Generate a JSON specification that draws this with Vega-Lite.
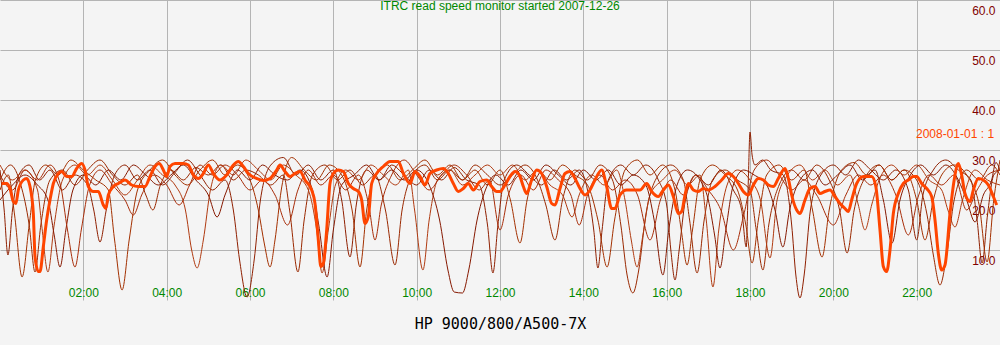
{
"$schema": "https://vega.github.io/schema/vega-lite/v6.json",
"width": 1000, "height": 300,
"autosize": {"type": "none"},
"padding": {"left": 0, "top": 0, "right": 0, "bottom": 45},
"background": "#f4f4f4",
"config": {"view": {"stroke": null}, "font": "Liberation Sans"},
"title": {"text": "ITRC read speed monitor started 2007-12-26", "color": "#008800", "fontSize": 12, "fontWeight": "normal", "font": "Liberation Sans", "anchor": "middle", "frame": "group", "orient": "top", "baseline": "top", "offset": -13},
"datasets": {
"brown": [
{"s":"a","h":0.0,"v":26},{"s":"a","h":0.1,"v":18},{"s":"a","h":0.19,"v":9},{"s":"a","h":0.3,"v":18},{"s":"a","h":0.45,"v":25},{"s":"a","h":0.7,"v":27},{"s":"a","h":0.95,"v":24},{"s":"a","h":1.2,"v":26},{"s":"a","h":1.5,"v":22},{"s":"a","h":1.8,"v":25},{"s":"a","h":2.1,"v":23},{"s":"a","h":2.25,"v":18},{"s":"a","h":2.4,"v":11.6},{"s":"a","h":2.55,"v":18},{"s":"a","h":2.75,"v":25},{"s":"a","h":3.0,"v":27},{"s":"a","h":3.3,"v":24},{"s":"a","h":3.6,"v":26},{"s":"a","h":3.9,"v":23},{"s":"a","h":4.2,"v":25.5},{"s":"a","h":4.5,"v":28},{"s":"a","h":4.8,"v":25},{"s":"a","h":5.1,"v":22},{"s":"a","h":5.4,"v":24},{"s":"a","h":5.6,"v":18},{"s":"a","h":5.75,"v":8},{"s":"a","h":5.93,"v":0.6},{"s":"a","h":6.1,"v":8},{"s":"a","h":6.25,"v":20},{"s":"a","h":6.5,"v":27},{"s":"a","h":6.8,"v":28.5},{"s":"a","h":7.1,"v":25},{"s":"a","h":7.4,"v":27},{"s":"a","h":7.7,"v":24},{"s":"a","h":8.0,"v":26},{"s":"a","h":8.2,"v":20},{"s":"a","h":8.4,"v":8.6},{"s":"a","h":8.55,"v":19},{"s":"a","h":8.8,"v":26},{"s":"a","h":9.1,"v":24},{"s":"a","h":9.4,"v":27},{"s":"a","h":9.7,"v":25},{"s":"a","h":10.0,"v":23},{"s":"a","h":10.3,"v":26},{"s":"a","h":10.6,"v":24},{"s":"a","h":10.9,"v":26.5},{"s":"a","h":11.2,"v":24},{"s":"a","h":11.5,"v":23},{"s":"a","h":11.7,"v":15},{"s":"a","h":11.83,"v":5.4},{"s":"a","h":11.95,"v":15},{"s":"a","h":12.1,"v":24},{"s":"a","h":12.4,"v":27},{"s":"a","h":12.7,"v":25},{"s":"a","h":13.0,"v":23},{"s":"a","h":13.3,"v":26},{"s":"a","h":13.6,"v":24},{"s":"a","h":13.9,"v":26},{"s":"a","h":14.1,"v":22},{"s":"a","h":14.25,"v":14},{"s":"a","h":14.35,"v":6.4},{"s":"a","h":14.45,"v":14},{"s":"a","h":14.6,"v":24},{"s":"a","h":14.9,"v":27},{"s":"a","h":15.2,"v":25},{"s":"a","h":15.5,"v":27},{"s":"a","h":15.8,"v":24},{"s":"a","h":16.0,"v":19},{"s":"a","h":16.1,"v":10},{"s":"a","h":16.2,"v":4},{"s":"a","h":16.3,"v":10},{"s":"a","h":16.45,"v":20},{"s":"a","h":16.7,"v":25},{"s":"a","h":17.0,"v":23},{"s":"a","h":17.3,"v":26},{"s":"a","h":17.6,"v":22},{"s":"a","h":17.8,"v":18},{"s":"a","h":17.91,"v":10.6},{"s":"a","h":17.96,"v":24},{"s":"a","h":18.0,"v":33.6},{"s":"a","h":18.05,"v":29},{"s":"a","h":18.12,"v":27},{"s":"a","h":18.3,"v":28},{"s":"a","h":18.5,"v":26},{"s":"a","h":18.8,"v":25},{"s":"a","h":19.0,"v":15},{"s":"a","h":19.1,"v":5},{"s":"a","h":19.2,"v":0.4},{"s":"a","h":19.3,"v":5},{"s":"a","h":19.45,"v":18},{"s":"a","h":19.7,"v":25},{"s":"a","h":20.0,"v":27},{"s":"a","h":20.3,"v":25},{"s":"a","h":20.6,"v":28},{"s":"a","h":20.9,"v":26},{"s":"a","h":21.2,"v":24},{"s":"a","h":21.5,"v":26},{"s":"a","h":21.8,"v":22},{"s":"a","h":22.0,"v":12},{"s":"a","h":22.15,"v":21},{"s":"a","h":22.4,"v":26},{"s":"a","h":22.7,"v":28},{"s":"a","h":23.0,"v":26},{"s":"a","h":23.3,"v":24},{"s":"a","h":23.45,"v":16},{"s":"a","h":23.57,"v":7.4},{"s":"a","h":23.7,"v":17},{"s":"a","h":23.85,"v":25},{"s":"a","h":24.0,"v":26},
{"s":"b","h":0.0,"v":22},{"s":"b","h":0.2,"v":25},{"s":"b","h":0.35,"v":17},{"s":"b","h":0.53,"v":4.6},{"s":"b","h":0.7,"v":15},{"s":"b","h":0.85,"v":24},{"s":"b","h":1.1,"v":27},{"s":"b","h":1.4,"v":25},{"s":"b","h":1.7,"v":28},{"s":"b","h":2.0,"v":26},{"s":"b","h":2.3,"v":24},{"s":"b","h":2.6,"v":22},{"s":"b","h":2.75,"v":12},{"s":"b","h":2.93,"v":2},{"s":"b","h":3.1,"v":12},{"s":"b","h":3.3,"v":22},{"s":"b","h":3.6,"v":26},{"s":"b","h":3.9,"v":28},{"s":"b","h":4.2,"v":25},{"s":"b","h":4.5,"v":23},{"s":"b","h":4.8,"v":26},{"s":"b","h":5.1,"v":28},{"s":"b","h":5.4,"v":25},{"s":"b","h":5.7,"v":27},{"s":"b","h":6.0,"v":24},{"s":"b","h":6.2,"v":18},{"s":"b","h":6.35,"v":11},{"s":"b","h":6.48,"v":6.6},{"s":"b","h":6.6,"v":12},{"s":"b","h":6.75,"v":22},{"s":"b","h":7.0,"v":28.5},{"s":"b","h":7.3,"v":26},{"s":"b","h":7.6,"v":24},{"s":"b","h":7.9,"v":27},{"s":"b","h":8.2,"v":25},{"s":"b","h":8.45,"v":18},{"s":"b","h":8.64,"v":6.6},{"s":"b","h":8.8,"v":18},{"s":"b","h":9.0,"v":25},{"s":"b","h":9.3,"v":27},{"s":"b","h":9.6,"v":24},{"s":"b","h":9.9,"v":26},{"s":"b","h":10.2,"v":28},{"s":"b","h":10.5,"v":25},{"s":"b","h":10.8,"v":27},{"s":"b","h":11.1,"v":24},{"s":"b","h":11.4,"v":26},{"s":"b","h":11.7,"v":23},{"s":"b","h":12.0,"v":26},{"s":"b","h":12.25,"v":20},{"s":"b","h":12.48,"v":11.4},{"s":"b","h":12.65,"v":20},{"s":"b","h":12.9,"v":26},{"s":"b","h":13.2,"v":24},{"s":"b","h":13.5,"v":27},{"s":"b","h":13.8,"v":25},{"s":"b","h":14.1,"v":23},{"s":"b","h":14.35,"v":16},{"s":"b","h":14.57,"v":6.6},{"s":"b","h":14.75,"v":16},{"s":"b","h":15.0,"v":26},{"s":"b","h":15.3,"v":28},{"s":"b","h":15.6,"v":25},{"s":"b","h":15.9,"v":27},{"s":"b","h":16.2,"v":22},{"s":"b","h":16.35,"v":14},{"s":"b","h":16.49,"v":7},{"s":"b","h":16.62,"v":14},{"s":"b","h":16.8,"v":24},{"s":"b","h":17.1,"v":27},{"s":"b","h":17.4,"v":25},{"s":"b","h":17.7,"v":22},{"s":"b","h":17.9,"v":15},{"s":"b","h":18.05,"v":7.4},{"s":"b","h":18.2,"v":16},{"s":"b","h":18.4,"v":25},{"s":"b","h":18.7,"v":27},{"s":"b","h":19.0,"v":24},{"s":"b","h":19.3,"v":26},{"s":"b","h":19.5,"v":18},{"s":"b","h":19.73,"v":8.6},{"s":"b","h":19.9,"v":18},{"s":"b","h":20.2,"v":26},{"s":"b","h":20.5,"v":27.5},{"s":"b","h":20.8,"v":25},{"s":"b","h":21.1,"v":27},{"s":"b","h":21.4,"v":24},{"s":"b","h":21.7,"v":26},{"s":"b","h":22.0,"v":20},{"s":"b","h":22.2,"v":12},{"s":"b","h":22.4,"v":20},{"s":"b","h":22.6,"v":25},{"s":"b","h":22.9,"v":27},{"s":"b","h":23.2,"v":25},{"s":"b","h":23.5,"v":19},{"s":"b","h":23.69,"v":7.6},{"s":"b","h":23.85,"v":20},{"s":"b","h":24.0,"v":28},
{"s":"c","h":0.0,"v":24},{"s":"c","h":0.25,"v":27},{"s":"c","h":0.5,"v":23},{"s":"c","h":0.7,"v":15},{"s":"c","h":0.84,"v":5.6},{"s":"c","h":0.98,"v":15},{"s":"c","h":1.2,"v":24},{"s":"c","h":1.5,"v":26},{"s":"c","h":1.8,"v":23},{"s":"c","h":2.1,"v":26},{"s":"c","h":2.4,"v":28},{"s":"c","h":2.7,"v":25},{"s":"c","h":3.0,"v":23},{"s":"c","h":3.3,"v":25},{"s":"c","h":3.5,"v":21},{"s":"c","h":3.67,"v":18},{"s":"c","h":3.85,"v":23},{"s":"c","h":4.1,"v":26},{"s":"c","h":4.4,"v":24},{"s":"c","h":4.7,"v":26.5},{"s":"c","h":5.0,"v":25},{"s":"c","h":5.3,"v":27},{"s":"c","h":5.6,"v":24},{"s":"c","h":5.9,"v":26},{"s":"c","h":6.2,"v":25},{"s":"c","h":6.5,"v":23},{"s":"c","h":6.8,"v":25},{"s":"c","h":6.95,"v":18},{"s":"c","h":7.15,"v":5.6},{"s":"c","h":7.3,"v":16},{"s":"c","h":7.5,"v":25},{"s":"c","h":7.8,"v":27},{"s":"c","h":8.1,"v":24},{"s":"c","h":8.4,"v":26},{"s":"c","h":8.7,"v":23},{"s":"c","h":9.0,"v":25},{"s":"c","h":9.25,"v":18},{"s":"c","h":9.48,"v":7},{"s":"c","h":9.65,"v":18},{"s":"c","h":9.9,"v":25},{"s":"c","h":10.2,"v":27},{"s":"c","h":10.5,"v":24},{"s":"c","h":10.8,"v":26},{"s":"c","h":11.1,"v":24},{"s":"c","h":11.4,"v":27},{"s":"c","h":11.7,"v":25},{"s":"c","h":12.0,"v":23},{"s":"c","h":12.3,"v":25},{"s":"c","h":12.6,"v":27},{"s":"c","h":12.9,"v":24},{"s":"c","h":13.1,"v":19},{"s":"c","h":13.32,"v":12},{"s":"c","h":13.5,"v":20},{"s":"c","h":13.8,"v":26},{"s":"c","h":14.1,"v":24},{"s":"c","h":14.4,"v":27},{"s":"c","h":14.7,"v":24},{"s":"c","h":14.9,"v":15},{"s":"c","h":15.05,"v":5},{"s":"c","h":15.19,"v":1.4},{"s":"c","h":15.33,"v":6},{"s":"c","h":15.5,"v":17},{"s":"c","h":15.8,"v":25},{"s":"c","h":16.1,"v":27},{"s":"c","h":16.4,"v":24},{"s":"c","h":16.55,"v":16},{"s":"c","h":16.73,"v":5.4},{"s":"c","h":16.9,"v":16},{"s":"c","h":17.1,"v":24},{"s":"c","h":17.4,"v":26},{"s":"c","h":17.7,"v":24},{"s":"c","h":18.0,"v":22},{"s":"c","h":18.15,"v":14},{"s":"c","h":18.31,"v":6},{"s":"c","h":18.45,"v":15},{"s":"c","h":18.7,"v":23},{"s":"c","h":19.0,"v":26},{"s":"c","h":19.3,"v":24},{"s":"c","h":19.6,"v":27},{"s":"c","h":19.9,"v":24},{"s":"c","h":20.15,"v":18},{"s":"c","h":20.33,"v":9.4},{"s":"c","h":20.5,"v":18},{"s":"c","h":20.8,"v":25},{"s":"c","h":21.1,"v":27},{"s":"c","h":21.4,"v":24},{"s":"c","h":21.7,"v":26},{"s":"c","h":22.0,"v":24},{"s":"c","h":22.25,"v":17},{"s":"c","h":22.4,"v":9},{"s":"c","h":22.56,"v":3},{"s":"c","h":22.72,"v":9},{"s":"c","h":22.9,"v":20},{"s":"c","h":23.2,"v":26},{"s":"c","h":23.5,"v":24},{"s":"c","h":23.8,"v":27},{"s":"c","h":24.0,"v":25},
{"s":"d","h":0.0,"v":27},{"s":"d","h":0.3,"v":24},{"s":"d","h":0.6,"v":26},{"s":"d","h":0.9,"v":22},{"s":"d","h":1.0,"v":15},{"s":"d","h":1.15,"v":5.6},{"s":"d","h":1.3,"v":15},{"s":"d","h":1.5,"v":24},{"s":"d","h":1.8,"v":27},{"s":"d","h":2.1,"v":25},{"s":"d","h":2.4,"v":27},{"s":"d","h":2.7,"v":24},{"s":"d","h":3.0,"v":21},{"s":"d","h":3.3,"v":24},{"s":"d","h":3.6,"v":27},{"s":"d","h":3.9,"v":25},{"s":"d","h":4.2,"v":23},{"s":"d","h":4.45,"v":18},{"s":"d","h":4.6,"v":10},{"s":"d","h":4.73,"v":6.4},{"s":"d","h":4.88,"v":12},{"s":"d","h":5.05,"v":22},{"s":"d","h":5.3,"v":27},{"s":"d","h":5.6,"v":25},{"s":"d","h":5.9,"v":28},{"s":"d","h":6.2,"v":26},{"s":"d","h":6.5,"v":24},{"s":"d","h":6.8,"v":27},{"s":"d","h":7.1,"v":25},{"s":"d","h":7.4,"v":22},{"s":"d","h":7.6,"v":14},{"s":"d","h":7.73,"v":5.4},{"s":"d","h":7.88,"v":14},{"s":"d","h":8.05,"v":23},{"s":"d","h":8.3,"v":26},{"s":"d","h":8.6,"v":24},{"s":"d","h":8.9,"v":27},{"s":"d","h":9.2,"v":25},{"s":"d","h":9.5,"v":23},{"s":"d","h":9.8,"v":26},{"s":"d","h":9.95,"v":18},{"s":"d","h":10.15,"v":6},{"s":"d","h":10.3,"v":16},{"s":"d","h":10.5,"v":24},{"s":"d","h":10.8,"v":26},{"s":"d","h":11.1,"v":23},{"s":"d","h":11.4,"v":25},{"s":"d","h":11.7,"v":27},{"s":"d","h":12.0,"v":25},{"s":"d","h":12.3,"v":27},{"s":"d","h":12.6,"v":24},{"s":"d","h":12.9,"v":26},{"s":"d","h":13.2,"v":23},{"s":"d","h":13.5,"v":21},{"s":"d","h":13.73,"v":16.6},{"s":"d","h":13.9,"v":21},{"s":"d","h":14.2,"v":25},{"s":"d","h":14.5,"v":23},{"s":"d","h":14.8,"v":26},{"s":"d","h":15.0,"v":20},{"s":"d","h":15.15,"v":12},{"s":"d","h":15.29,"v":6.6},{"s":"d","h":15.43,"v":13},{"s":"d","h":15.6,"v":21},{"s":"d","h":15.9,"v":24},{"s":"d","h":16.2,"v":26},{"s":"d","h":16.5,"v":23},{"s":"d","h":16.8,"v":25},{"s":"d","h":16.95,"v":16},{"s":"d","h":17.11,"v":2.6},{"s":"d","h":17.25,"v":14},{"s":"d","h":17.45,"v":23},{"s":"d","h":17.7,"v":26},{"s":"d","h":18.0,"v":24},{"s":"d","h":18.25,"v":20},{"s":"d","h":18.48,"v":8.4},{"s":"d","h":18.65,"v":20},{"s":"d","h":18.9,"v":25},{"s":"d","h":19.2,"v":27},{"s":"d","h":19.5,"v":24},{"s":"d","h":19.8,"v":26},{"s":"d","h":20.1,"v":23},{"s":"d","h":20.4,"v":25},{"s":"d","h":20.6,"v":19},{"s":"d","h":20.76,"v":14},{"s":"d","h":20.92,"v":19},{"s":"d","h":21.1,"v":24},{"s":"d","h":21.4,"v":27},{"s":"d","h":21.7,"v":25},{"s":"d","h":22.0,"v":27},{"s":"d","h":22.3,"v":24},{"s":"d","h":22.6,"v":22},{"s":"d","h":22.75,"v":18},{"s":"d","h":22.92,"v":14.6},{"s":"d","h":23.1,"v":20},{"s":"d","h":23.4,"v":26},{"s":"d","h":23.7,"v":24},{"s":"d","h":24.0,"v":23},
{"s":"e","h":0.0,"v":20},{"s":"e","h":0.3,"v":23},{"s":"e","h":0.6,"v":25},{"s":"e","h":0.9,"v":23},{"s":"e","h":1.15,"v":20},{"s":"e","h":1.3,"v":13},{"s":"e","h":1.44,"v":6.6},{"s":"e","h":1.58,"v":14},{"s":"e","h":1.75,"v":22},{"s":"e","h":2.0,"v":25},{"s":"e","h":2.3,"v":23},{"s":"e","h":2.6,"v":26},{"s":"e","h":2.9,"v":24},{"s":"e","h":3.2,"v":27},{"s":"e","h":3.5,"v":25},{"s":"e","h":3.8,"v":23},{"s":"e","h":4.1,"v":25},{"s":"e","h":4.4,"v":27},{"s":"e","h":4.7,"v":24},{"s":"e","h":5.0,"v":21},{"s":"e","h":5.21,"v":16.6},{"s":"e","h":5.4,"v":21},{"s":"e","h":5.7,"v":26},{"s":"e","h":6.0,"v":24},{"s":"e","h":6.3,"v":27},{"s":"e","h":6.6,"v":25},{"s":"e","h":6.9,"v":24},{"s":"e","h":7.2,"v":26},{"s":"e","h":7.5,"v":22},{"s":"e","h":7.65,"v":15},{"s":"e","h":7.85,"v":4.6},{"s":"e","h":8.0,"v":14},{"s":"e","h":8.2,"v":23},{"s":"e","h":8.5,"v":25},{"s":"e","h":8.8,"v":27},{"s":"e","h":9.1,"v":24},{"s":"e","h":9.4,"v":26},{"s":"e","h":9.7,"v":24},{"s":"e","h":10.0,"v":26},{"s":"e","h":10.3,"v":23},{"s":"e","h":10.55,"v":16},{"s":"e","h":10.75,"v":6},{"s":"e","h":10.9,"v":1.6},{"s":"e","h":11.1,"v":1.4},{"s":"e","h":11.25,"v":6},{"s":"e","h":11.45,"v":16},{"s":"e","h":11.65,"v":22},{"s":"e","h":11.9,"v":25},{"s":"e","h":12.2,"v":23},{"s":"e","h":12.5,"v":26},{"s":"e","h":12.8,"v":24},{"s":"e","h":13.1,"v":27},{"s":"e","h":13.4,"v":25},{"s":"e","h":13.7,"v":23},{"s":"e","h":14.0,"v":26},{"s":"e","h":14.3,"v":24},{"s":"e","h":14.6,"v":26},{"s":"e","h":14.9,"v":23},{"s":"e","h":15.2,"v":25},{"s":"e","h":15.5,"v":23},{"s":"e","h":15.7,"v":16},{"s":"e","h":15.91,"v":5},{"s":"e","h":16.05,"v":14},{"s":"e","h":16.25,"v":23},{"s":"e","h":16.5,"v":26},{"s":"e","h":16.8,"v":24},{"s":"e","h":17.0,"v":20},{"s":"e","h":17.15,"v":13},{"s":"e","h":17.28,"v":6.4},{"s":"e","h":17.42,"v":14},{"s":"e","h":17.6,"v":23},{"s":"e","h":17.85,"v":26},{"s":"e","h":18.1,"v":25},{"s":"e","h":18.4,"v":23},{"s":"e","h":18.6,"v":18},{"s":"e","h":18.79,"v":10.6},{"s":"e","h":18.95,"v":18},{"s":"e","h":19.2,"v":24},{"s":"e","h":19.5,"v":26},{"s":"e","h":19.8,"v":23},{"s":"e","h":20.1,"v":25},{"s":"e","h":20.4,"v":27},{"s":"e","h":20.7,"v":24},{"s":"e","h":21.0,"v":26},{"s":"e","h":21.2,"v":20},{"s":"e","h":21.41,"v":11.4},{"s":"e","h":21.6,"v":20},{"s":"e","h":21.85,"v":25},{"s":"e","h":22.1,"v":27},{"s":"e","h":22.4,"v":25},{"s":"e","h":22.7,"v":27},{"s":"e","h":23.0,"v":24},{"s":"e","h":23.2,"v":20},{"s":"e","h":23.4,"v":15.6},{"s":"e","h":23.6,"v":21},{"s":"e","h":23.8,"v":24},{"s":"e","h":23.9,"v":27.5},{"s":"e","h":24.0,"v":26},
{"s":"f","h":0.0,"v":25},{"s":"f","h":0.3,"v":22},{"s":"f","h":0.6,"v":26},{"s":"f","h":0.9,"v":24},{"s":"f","h":1.2,"v":27},{"s":"f","h":1.45,"v":23},{"s":"f","h":1.62,"v":14},{"s":"f","h":1.8,"v":6.6},{"s":"f","h":1.95,"v":14},{"s":"f","h":2.15,"v":23},{"s":"f","h":2.4,"v":26},{"s":"f","h":2.7,"v":23},{"s":"f","h":3.0,"v":20},{"s":"f","h":3.2,"v":17},{"s":"f","h":3.4,"v":21},{"s":"f","h":3.7,"v":25},{"s":"f","h":4.0,"v":23},{"s":"f","h":4.3,"v":19},{"s":"f","h":4.55,"v":23},{"s":"f","h":4.8,"v":27},{"s":"f","h":5.1,"v":25},{"s":"f","h":5.4,"v":27},{"s":"f","h":5.7,"v":25},{"s":"f","h":6.0,"v":22},{"s":"f","h":6.3,"v":24},{"s":"f","h":6.6,"v":21},{"s":"f","h":6.9,"v":15},{"s":"f","h":7.15,"v":22},{"s":"f","h":7.4,"v":26},{"s":"f","h":7.7,"v":23},{"s":"f","h":8.0,"v":25},{"s":"f","h":8.3,"v":22},{"s":"f","h":8.6,"v":25},{"s":"f","h":8.85,"v":19},{"s":"f","h":9.0,"v":12},{"s":"f","h":9.15,"v":19},{"s":"f","h":9.4,"v":25},{"s":"f","h":9.7,"v":28},{"s":"f","h":10.0,"v":25},{"s":"f","h":10.3,"v":22},{"s":"f","h":10.6,"v":25},{"s":"f","h":10.9,"v":27},{"s":"f","h":11.2,"v":25},{"s":"f","h":11.5,"v":22},{"s":"f","h":11.75,"v":24},{"s":"f","h":12.0,"v":14},{"s":"f","h":12.2,"v":21},{"s":"f","h":12.5,"v":25},{"s":"f","h":12.8,"v":22},{"s":"f","h":13.1,"v":26},{"s":"f","h":13.4,"v":24},{"s":"f","h":13.7,"v":21},{"s":"f","h":13.9,"v":15},{"s":"f","h":14.1,"v":21},{"s":"f","h":14.4,"v":25},{"s":"f","h":14.7,"v":22},{"s":"f","h":15.0,"v":24},{"s":"f","h":15.3,"v":21},{"s":"f","h":15.6,"v":12},{"s":"f","h":15.85,"v":20},{"s":"f","h":16.1,"v":24},{"s":"f","h":16.4,"v":21},{"s":"f","h":16.7,"v":25},{"s":"f","h":17.0,"v":22},{"s":"f","h":17.3,"v":18},{"s":"f","h":17.6,"v":10},{"s":"f","h":17.85,"v":17},{"s":"f","h":18.1,"v":26},{"s":"f","h":18.4,"v":28},{"s":"f","h":18.7,"v":25},{"s":"f","h":19.0,"v":22},{"s":"f","h":19.3,"v":24},{"s":"f","h":19.6,"v":21},{"s":"f","h":20.0,"v":15},{"s":"f","h":20.3,"v":21},{"s":"f","h":20.6,"v":25},{"s":"f","h":20.9,"v":23},{"s":"f","h":21.2,"v":25},{"s":"f","h":21.5,"v":21},{"s":"f","h":21.8,"v":13},{"s":"f","h":22.05,"v":21},{"s":"f","h":22.3,"v":25},{"s":"f","h":22.6,"v":23},{"s":"f","h":22.9,"v":25},{"s":"f","h":23.2,"v":18},{"s":"f","h":23.45,"v":22},{"s":"f","h":23.7,"v":25},{"s":"f","h":24.0,"v":26}
],
"orange": [
{"s":"2008-01-01 : 1","h":0.04,"v":23.3},{"s":"2008-01-01 : 1","h":0.16,"v":23.3},{"s":"2008-01-01 : 1","h":0.24,"v":22.3},{"s":"2008-01-01 : 1","h":0.32,"v":19.7},{"s":"2008-01-01 : 1","h":0.38,"v":19.3},{"s":"2008-01-01 : 1","h":0.44,"v":22},{"s":"2008-01-01 : 1","h":0.56,"v":24},{"s":"2008-01-01 : 1","h":0.64,"v":24.3},{"s":"2008-01-01 : 1","h":0.72,"v":22.7},{"s":"2008-01-01 : 1","h":0.8,"v":17.3},{"s":"2008-01-01 : 1","h":0.84,"v":8.7},{"s":"2008-01-01 : 1","h":0.92,"v":5.7},{"s":"2008-01-01 : 1","h":0.96,"v":5.7},{"s":"2008-01-01 : 1","h":1.04,"v":10.7},{"s":"2008-01-01 : 1","h":1.12,"v":16},{"s":"2008-01-01 : 1","h":1.2,"v":20},{"s":"2008-01-01 : 1","h":1.28,"v":23.3},{"s":"2008-01-01 : 1","h":1.4,"v":25.3},{"s":"2008-01-01 : 1","h":1.48,"v":25.7},{"s":"2008-01-01 : 1","h":1.6,"v":24.7},{"s":"2008-01-01 : 1","h":1.72,"v":24.7},{"s":"2008-01-01 : 1","h":1.84,"v":26.3},{"s":"2008-01-01 : 1","h":1.96,"v":27.3},{"s":"2008-01-01 : 1","h":2.04,"v":26},{"s":"2008-01-01 : 1","h":2.12,"v":22.7},{"s":"2008-01-01 : 1","h":2.24,"v":21.7},{"s":"2008-01-01 : 1","h":2.36,"v":21.7},{"s":"2008-01-01 : 1","h":2.48,"v":19},{"s":"2008-01-01 : 1","h":2.54,"v":18.3},{"s":"2008-01-01 : 1","h":2.6,"v":21},{"s":"2008-01-01 : 1","h":2.72,"v":22.7},{"s":"2008-01-01 : 1","h":2.84,"v":23.3},{"s":"2008-01-01 : 1","h":3.0,"v":24},{"s":"2008-01-01 : 1","h":3.16,"v":23},{"s":"2008-01-01 : 1","h":3.32,"v":22.7},{"s":"2008-01-01 : 1","h":3.48,"v":22.7},{"s":"2008-01-01 : 1","h":3.6,"v":24.7},{"s":"2008-01-01 : 1","h":3.72,"v":26.7},{"s":"2008-01-01 : 1","h":3.82,"v":27.3},{"s":"2008-01-01 : 1","h":3.92,"v":26},{"s":"2008-01-01 : 1","h":4.0,"v":24.7},{"s":"2008-01-01 : 1","h":4.08,"v":26.7},{"s":"2008-01-01 : 1","h":4.2,"v":27.3},{"s":"2008-01-01 : 1","h":4.4,"v":27.3},{"s":"2008-01-01 : 1","h":4.52,"v":27},{"s":"2008-01-01 : 1","h":4.64,"v":25},{"s":"2008-01-01 : 1","h":4.76,"v":24.3},{"s":"2008-01-01 : 1","h":4.88,"v":25.3},{"s":"2008-01-01 : 1","h":5.0,"v":27},{"s":"2008-01-01 : 1","h":5.12,"v":25.3},{"s":"2008-01-01 : 1","h":5.28,"v":24},{"s":"2008-01-01 : 1","h":5.44,"v":25},{"s":"2008-01-01 : 1","h":5.6,"v":27},{"s":"2008-01-01 : 1","h":5.72,"v":27.7},{"s":"2008-01-01 : 1","h":5.84,"v":26.7},{"s":"2008-01-01 : 1","h":5.96,"v":25.3},
{"s":"2008-01-01 : 1","h":6.16,"v":24.3},{"s":"2008-01-01 : 1","h":6.32,"v":23.9},{"s":"2008-01-01 : 1","h":6.48,"v":24.3},{"s":"2008-01-01 : 1","h":6.64,"v":26},{"s":"2008-01-01 : 1","h":6.72,"v":27},{"s":"2008-01-01 : 1","h":6.84,"v":25.7},{"s":"2008-01-01 : 1","h":6.96,"v":24.7},{"s":"2008-01-01 : 1","h":7.08,"v":25.3},{"s":"2008-01-01 : 1","h":7.2,"v":25.7},{"s":"2008-01-01 : 1","h":7.32,"v":24},{"s":"2008-01-01 : 1","h":7.48,"v":22},{"s":"2008-01-01 : 1","h":7.56,"v":19.3},{"s":"2008-01-01 : 1","h":7.64,"v":12},{"s":"2008-01-01 : 1","h":7.7,"v":6.7},{"s":"2008-01-01 : 1","h":7.76,"v":7.3},{"s":"2008-01-01 : 1","h":7.84,"v":14},{"s":"2008-01-01 : 1","h":7.92,"v":23.3},{"s":"2008-01-01 : 1","h":8.0,"v":25.3},{"s":"2008-01-01 : 1","h":8.12,"v":26},{"s":"2008-01-01 : 1","h":8.24,"v":25.7},{"s":"2008-01-01 : 1","h":8.36,"v":23.3},{"s":"2008-01-01 : 1","h":8.48,"v":22.3},{"s":"2008-01-01 : 1","h":8.6,"v":21.7},{"s":"2008-01-01 : 1","h":8.68,"v":20},{"s":"2008-01-01 : 1","h":8.76,"v":15.3},{"s":"2008-01-01 : 1","h":8.84,"v":16.7},{"s":"2008-01-01 : 1","h":8.92,"v":23.3},{"s":"2008-01-01 : 1","h":9.04,"v":25.3},{"s":"2008-01-01 : 1","h":9.2,"v":26.7},{"s":"2008-01-01 : 1","h":9.36,"v":27.7},{"s":"2008-01-01 : 1","h":9.56,"v":27.7},{"s":"2008-01-01 : 1","h":9.68,"v":25.3},{"s":"2008-01-01 : 1","h":9.84,"v":23.3},{"s":"2008-01-01 : 1","h":9.96,"v":25.7},{"s":"2008-01-01 : 1","h":10.08,"v":24.7},{"s":"2008-01-01 : 1","h":10.2,"v":23},{"s":"2008-01-01 : 1","h":10.32,"v":25.3},{"s":"2008-01-01 : 1","h":10.48,"v":26},{"s":"2008-01-01 : 1","h":10.64,"v":26.3},{"s":"2008-01-01 : 1","h":10.76,"v":25.3},{"s":"2008-01-01 : 1","h":10.88,"v":23.3},{"s":"2008-01-01 : 1","h":11.0,"v":21.7},{"s":"2008-01-01 : 1","h":11.12,"v":22.3},{"s":"2008-01-01 : 1","h":11.24,"v":23.3},{"s":"2008-01-01 : 1","h":11.36,"v":22},{"s":"2008-01-01 : 1","h":11.52,"v":23.7},{"s":"2008-01-01 : 1","h":11.68,"v":24},{"s":"2008-01-01 : 1","h":11.8,"v":22.7},{"s":"2008-01-01 : 1","h":11.92,"v":21.7},
{"s":"2008-01-01 : 1","h":12.0,"v":21.7},{"s":"2008-01-01 : 1","h":12.12,"v":23},{"s":"2008-01-01 : 1","h":12.24,"v":24.7},{"s":"2008-01-01 : 1","h":12.36,"v":25.7},{"s":"2008-01-01 : 1","h":12.48,"v":24.7},{"s":"2008-01-01 : 1","h":12.56,"v":22.7},{"s":"2008-01-01 : 1","h":12.64,"v":21.3},{"s":"2008-01-01 : 1","h":12.76,"v":24},{"s":"2008-01-01 : 1","h":12.88,"v":26},{"s":"2008-01-01 : 1","h":13.0,"v":25.3},{"s":"2008-01-01 : 1","h":13.12,"v":22.7},{"s":"2008-01-01 : 1","h":13.24,"v":19.3},{"s":"2008-01-01 : 1","h":13.32,"v":19},{"s":"2008-01-01 : 1","h":13.44,"v":22.3},{"s":"2008-01-01 : 1","h":13.56,"v":25.3},{"s":"2008-01-01 : 1","h":13.68,"v":25.7},{"s":"2008-01-01 : 1","h":13.8,"v":24.3},{"s":"2008-01-01 : 1","h":13.92,"v":22.3},{"s":"2008-01-01 : 1","h":14.04,"v":21},{"s":"2008-01-01 : 1","h":14.16,"v":22},{"s":"2008-01-01 : 1","h":14.28,"v":24},{"s":"2008-01-01 : 1","h":14.44,"v":26},{"s":"2008-01-01 : 1","h":14.56,"v":22.7},{"s":"2008-01-01 : 1","h":14.68,"v":18.3},{"s":"2008-01-01 : 1","h":14.76,"v":18.3},{"s":"2008-01-01 : 1","h":14.88,"v":21},{"s":"2008-01-01 : 1","h":15.04,"v":22},{"s":"2008-01-01 : 1","h":15.2,"v":22},{"s":"2008-01-01 : 1","h":15.36,"v":22},{"s":"2008-01-01 : 1","h":15.52,"v":23.3},{"s":"2008-01-01 : 1","h":15.64,"v":21.7},{"s":"2008-01-01 : 1","h":15.8,"v":20.7},{"s":"2008-01-01 : 1","h":15.92,"v":22},{"s":"2008-01-01 : 1","h":16.04,"v":23},{"s":"2008-01-01 : 1","h":16.16,"v":20.7},{"s":"2008-01-01 : 1","h":16.28,"v":17.3},{"s":"2008-01-01 : 1","h":16.36,"v":17.7},{"s":"2008-01-01 : 1","h":16.44,"v":21},{"s":"2008-01-01 : 1","h":16.52,"v":23.3},{"s":"2008-01-01 : 1","h":16.64,"v":22},{"s":"2008-01-01 : 1","h":16.76,"v":21.7},{"s":"2008-01-01 : 1","h":16.88,"v":22.3},{"s":"2008-01-01 : 1","h":17.0,"v":22},{"s":"2008-01-01 : 1","h":17.16,"v":22.7},{"s":"2008-01-01 : 1","h":17.32,"v":24},{"s":"2008-01-01 : 1","h":17.48,"v":25.3},{"s":"2008-01-01 : 1","h":17.6,"v":24.7},{"s":"2008-01-01 : 1","h":17.72,"v":23.3},{"s":"2008-01-01 : 1","h":17.84,"v":21.7},{"s":"2008-01-01 : 1","h":17.96,"v":21},
{"s":"2008-01-01 : 1","h":18.08,"v":23},{"s":"2008-01-01 : 1","h":18.2,"v":24.3},{"s":"2008-01-01 : 1","h":18.32,"v":24},{"s":"2008-01-01 : 1","h":18.44,"v":23},{"s":"2008-01-01 : 1","h":18.56,"v":22.7},{"s":"2008-01-01 : 1","h":18.68,"v":24.3},{"s":"2008-01-01 : 1","h":18.84,"v":26.3},{"s":"2008-01-01 : 1","h":18.92,"v":24.3},{"s":"2008-01-01 : 1","h":19.0,"v":21},{"s":"2008-01-01 : 1","h":19.12,"v":18},{"s":"2008-01-01 : 1","h":19.2,"v":17.3},{"s":"2008-01-01 : 1","h":19.32,"v":20},{"s":"2008-01-01 : 1","h":19.44,"v":22.3},{"s":"2008-01-01 : 1","h":19.56,"v":22.7},{"s":"2008-01-01 : 1","h":19.68,"v":21.3},{"s":"2008-01-01 : 1","h":19.8,"v":21.7},{"s":"2008-01-01 : 1","h":19.92,"v":22},{"s":"2008-01-01 : 1","h":20.04,"v":20.7},{"s":"2008-01-01 : 1","h":20.16,"v":19.3},{"s":"2008-01-01 : 1","h":20.28,"v":18.3},{"s":"2008-01-01 : 1","h":20.36,"v":17.7},{"s":"2008-01-01 : 1","h":20.44,"v":20},{"s":"2008-01-01 : 1","h":20.56,"v":23.3},{"s":"2008-01-01 : 1","h":20.72,"v":24.7},{"s":"2008-01-01 : 1","h":20.92,"v":24.7},{"s":"2008-01-01 : 1","h":21.02,"v":22.7},{"s":"2008-01-01 : 1","h":21.12,"v":14},{"s":"2008-01-01 : 1","h":21.2,"v":6.7},{"s":"2008-01-01 : 1","h":21.28,"v":5.7},{"s":"2008-01-01 : 1","h":21.36,"v":10},{"s":"2008-01-01 : 1","h":21.44,"v":17.3},{"s":"2008-01-01 : 1","h":21.56,"v":21.3},{"s":"2008-01-01 : 1","h":21.68,"v":23.3},{"s":"2008-01-01 : 1","h":21.8,"v":24},{"s":"2008-01-01 : 1","h":21.92,"v":24.7},{"s":"2008-01-01 : 1","h":22.0,"v":24.7},{"s":"2008-01-01 : 1","h":22.12,"v":23.3},{"s":"2008-01-01 : 1","h":22.24,"v":22.3},{"s":"2008-01-01 : 1","h":22.36,"v":20.7},{"s":"2008-01-01 : 1","h":22.44,"v":16},{"s":"2008-01-01 : 1","h":22.52,"v":9.3},{"s":"2008-01-01 : 1","h":22.6,"v":6},{"s":"2008-01-01 : 1","h":22.68,"v":7},{"s":"2008-01-01 : 1","h":22.8,"v":17.3},{"s":"2008-01-01 : 1","h":22.9,"v":24},{"s":"2008-01-01 : 1","h":23.0,"v":27.3},{"s":"2008-01-01 : 1","h":23.08,"v":25},{"s":"2008-01-01 : 1","h":23.16,"v":21.3},{"s":"2008-01-01 : 1","h":23.28,"v":19.7},{"s":"2008-01-01 : 1","h":23.36,"v":22},{"s":"2008-01-01 : 1","h":23.48,"v":24.3},{"s":"2008-01-01 : 1","h":23.6,"v":24},{"s":"2008-01-01 : 1","h":23.72,"v":23},{"s":"2008-01-01 : 1","h":23.84,"v":20.7},{"s":"2008-01-01 : 1","h":23.92,"v":19}
]
},
"encoding": {
  "x": {"field": "h", "type": "quantitative", "scale": {"domain": [0, 24], "nice": false, "zero": false},
        "axis": {"values": [2,4,6,8,10,12,14,16,18,20,22], "grid": true, "gridColor": "#b4b4b4", "gridOpacity": 1, "domain": false, "ticks": false,
                 "labelPadding": -8, "labelColor": "#008800", "labelFontSize": 12, "labelFont": "Liberation Sans", "labelBaseline": "middle",
                 "labelExpr": "(datum.value < 10 ? '0' : '') + datum.value + ':00'",
                 "title": "HP 9000/800/A500-7X", "titleFont": "DejaVu Sans Mono", "titleFontSize": 15, "titleFontWeight": "normal", "titleColor": "#000000", "titleY": 23, "titleBaseline": "middle"}},
  "y": {"field": "v", "type": "quantitative", "scale": {"domain": [0, 60], "nice": false},
        "axis": {"orient": "right", "values": [10,20,30,40,50,60], "format": ".1f", "grid": true, "gridColor": "#b4b4b4", "gridOpacity": 1, "domain": false, "ticks": false,
                 "labelAlign": "right", "labelPadding": -5, "labelBaseline": "middle", "labelOffset": 10, "labelColor": "#800000", "labelFontSize": 12, "labelFont": "Liberation Sans", "title": null}}
},
"layer": [
  {"data": {"name": "brown"}, "mark": {"type": "line", "interpolate": "monotone", "strokeWidth": 1},
   "encoding": {"color": {"field": "s", "type": "nominal", "scale": {"domain": ["a","b","c","d","e","f"], "range": ["#8f1f00","#a33000","#9a2800","#b03a10","#861800","#a82c08"]}, "legend": null}}},
  {"data": {"name": "orange"}, "mark": {"type": "line", "interpolate": "monotone", "strokeWidth": 3},
   "encoding": {"color": {"field": "s", "type": "nominal", "scale": {"range": ["#ff4500"]},
     "legend": {"orient": "none", "legendX": 904, "legendY": 128, "title": null, "padding": 0, "symbolOpacity": 0, "symbolSize": 0, "symbolStrokeWidth": 0, "labelOffset": 0, "labelLimit": 200, "labelColor": "#ff4500", "labelFontSize": 12, "labelFont": "Liberation Sans"}}}}
],
"resolve": {"scale": {"color": "independent"}}
}
